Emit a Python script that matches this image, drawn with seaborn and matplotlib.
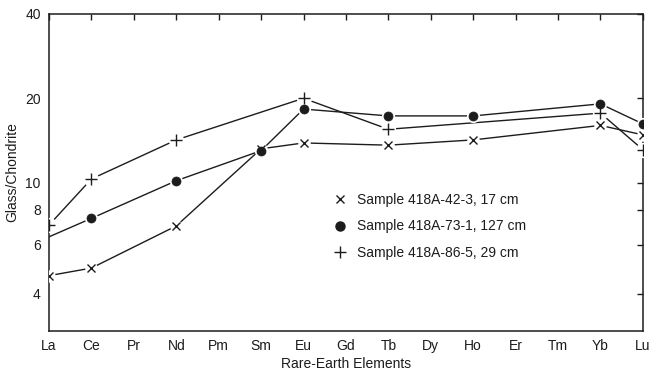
import numpy as np
import pandas as pd
import seaborn as sns
import matplotlib.pyplot as plt
from matplotlib.lines import Line2D

# rare-earth elements along the x axis
elements = ["La", "Ce", "Pr", "Nd", "Pm", "Sm", "Eu", "Gd",
            "Tb", "Dy", "Ho", "Er", "Tm", "Yb", "Lu"]
nan = np.nan

# glass / chondrite ratios
s42_3 = [4.65, 4.95, nan, 7.0, nan, 13.2, 13.85, nan, 13.6, nan, 14.2, nan, nan, 16.0, 14.8]
s73_1 = [6.4, 7.45, nan, 10.15, nan, 13.0, 18.3, nan, 17.3, nan, 17.3, nan, nan, 19.1, 16.2]
s86_5 = [7.05, 10.3, nan, 14.2, nan, nan, 20.0, nan, 15.5, nan, nan, nan, nan, 17.7, 13.1]

labels = ["Sample 418A-42-3, 17 cm", "Sample 418A-73-1, 127 cm", "Sample 418A-86-5, 29 cm"]
yticks = [4, 6, 8, 10, 20, 40]

sns.set_style("white")
plt.rcParams["font.family"] = ["Liberation Sans", "DejaVu Sans"]
plt.rcParams["font.size"] = 10

ink = "#1c1c1c"
fig = plt.figure(figsize=(6.52, 3.74), dpi=100)
ax = fig.add_axes([0.0752, 0.115, 0.9108, 0.8476])

series = [
    (s42_3, "x", 6, 1.0, None),
    (s73_1, "o", 6.5, 0, [1, 2, 3, 4, 5, 6, 7, 8]),  # La dot hidden behind the axis
    (s86_5, "+", 8, 1.0, None),
]

for vals, mk, ms, mew, show in series:
    df = pd.DataFrame({"pos": np.arange(len(elements)), "ratio": vals}).dropna()
    sns.lineplot(data=df, x="pos", y="ratio", ax=ax, color=ink, lw=1.0,
                 zorder=2, estimator=None, sort=False)
    pts = df if show is None else df.iloc[show]
    # white halo to break the line around each symbol, like the original drafting
    ax.plot(pts["pos"], pts["ratio"], ls="none", marker="o", ms=ms + 3,
            mfc="white", mec="none", zorder=3)
    ax.plot(pts["pos"], pts["ratio"], ls="none", marker=mk, ms=ms,
            mfc=ink, mec=ink, mew=mew if mew else 0.5, zorder=4)

ax.set_yscale("log")
ax.set_ylim(2.95, 40)
ax.set_xlim(0, len(elements) - 1)
ax.set_yticks(yticks)
ax.set_yticklabels([str(t) for t in yticks])
ax.minorticks_off()
ax.set_xticks(range(len(elements)))
ax.set_xticklabels(elements)

ax.tick_params(direction="in", length=4, width=1, color=ink, labelcolor=ink,
               top=True, right=True, labelsize=10, pad=6)
for sp in ax.spines.values():
    sp.set_color(ink)
    sp.set_linewidth(1.1)

ax.set_xlabel("Rare-Earth Elements", color=ink, fontsize=10, labelpad=3)
ax.set_ylabel("Glass/Chondrite", color=ink, fontsize=10, labelpad=4)

handles = [
    Line2D([], [], ls="none", marker="x", ms=6, mew=1.0, color=ink),
    Line2D([], [], ls="none", marker="o", ms=6.5, color=ink),
    Line2D([], [], ls="none", marker="+", ms=8, mew=1.0, color=ink),
]
ax.legend(handles, labels, loc="upper left", bbox_to_anchor=(333 / 652, 1 - 193 / 374),
          bbox_transform=fig.transFigure, frameon=False, fontsize=10,
          handlelength=1.0, handletextpad=0.7, labelspacing=0.9,
          borderpad=0, borderaxespad=0, labelcolor=ink)

fig.savefig("out.png", dpi=100)
